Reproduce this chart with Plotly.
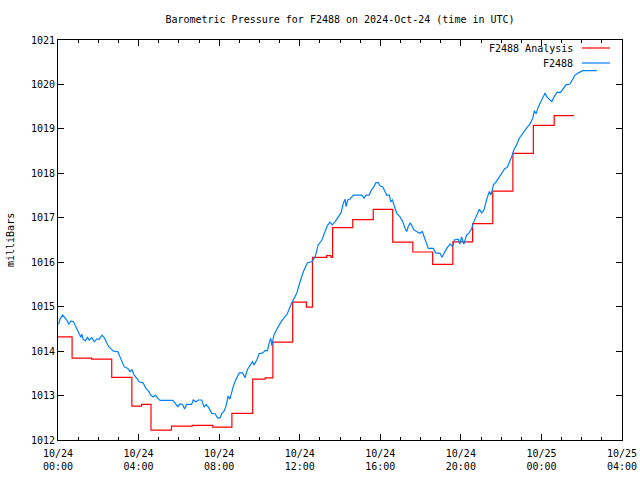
import pandas as pd
import plotly.graph_objects as go

# ---- data (minutes after 2024-10-24 00:00 UTC, pressure in mbar) ----
obs_minutes = [
    2, 6, 14, 19, 26, 32, 39, 46, 52, 57, 63, 68, 71, 75, 81, 88, 93, 101, 108, 115,
    123, 131, 138, 143, 151, 158, 165, 178, 185, 191, 197, 208, 214, 220, 227, 234, 242, 254, 262, 270,
    276, 284, 290, 297, 304, 342, 348, 357, 363, 371, 377, 383, 398, 403, 411, 418, 428, 435, 441, 448,
    458, 468, 475, 483, 488, 494, 500, 507, 512, 517, 522, 527, 534, 540, 550, 557, 564, 572, 579, 584,
    592, 599, 610, 617, 624, 629, 634, 637, 643, 651, 659, 666, 676, 683, 696, 711, 721, 731, 743, 756,
    766, 775, 786, 793, 802, 810, 817, 825, 835, 843, 850, 855, 858, 863, 870, 880, 905, 912, 917, 927,
    934, 941, 947, 954, 959, 967, 974, 979, 987, 991, 996, 1001, 1009, 1019, 1027, 1034, 1039, 1043, 1049, 1054,
    1060, 1068, 1078, 1085, 1090, 1096, 1103, 1118, 1125, 1138, 1144, 1150, 1158, 1168, 1176, 1180, 1192, 1197, 1202, 1209,
    1217, 1225, 1232, 1237, 1242, 1249, 1255, 1262, 1269, 1277, 1285, 1290, 1297, 1305, 1312, 1319, 1326, 1331, 1338, 1346,
    1351, 1358, 1366, 1374, 1384, 1391, 1398, 1406, 1414, 1419, 1424, 1431, 1438, 1444, 1451, 1456, 1463, 1471, 1477, 1486,
    1497, 1505, 1513, 1525, 1532, 1540, 1550, 1563, 1605,
]
obs_values = [
    1014.60, 1014.72, 1014.81, 1014.77, 1014.70, 1014.61, 1014.68, 1014.66, 1014.57, 1014.50,
    1014.40, 1014.31, 1014.38, 1014.27, 1014.23, 1014.31, 1014.25, 1014.30, 1014.21, 1014.27,
    1014.27, 1014.36, 1014.30, 1014.21, 1014.10, 1014.05, 1014.00, 1013.99, 1013.87, 1013.73,
    1013.65, 1013.61, 1013.54, 1013.58, 1013.46, 1013.39, 1013.31, 1013.28, 1013.16, 1013.10,
    1013.01, 1012.97, 1013.01, 1012.94, 1012.89, 1012.89, 1012.83, 1012.75, 1012.81, 1012.80,
    1012.70, 1012.80, 1012.80, 1012.90, 1012.86, 1012.90, 1012.90, 1012.74, 1012.80, 1012.74,
    1012.60, 1012.59, 1012.50, 1012.50, 1012.60, 1012.64, 1012.75, 1012.99, 1012.92, 1013.09,
    1013.20, 1013.31, 1013.42, 1013.51, 1013.51, 1013.40, 1013.58, 1013.69, 1013.76, 1013.69,
    1013.80, 1013.94, 1013.96, 1014.01, 1014.01, 1014.18, 1014.29, 1014.12, 1014.36, 1014.48,
    1014.59, 1014.68, 1014.77, 1014.84, 1015.08, 1015.30, 1015.56, 1015.79, 1015.99, 1016.01,
    1016.12, 1016.39, 1016.50, 1016.65, 1016.82, 1016.90, 1016.84, 1016.91, 1017.02, 1017.11,
    1017.33, 1017.42, 1017.25, 1017.40, 1017.42, 1017.51, 1017.51, 1017.44, 1017.51, 1017.51,
    1017.63, 1017.70, 1017.79, 1017.79, 1017.72, 1017.70, 1017.59, 1017.51, 1017.51, 1017.36,
    1017.40, 1017.29, 1017.10, 1017.02, 1016.91, 1016.76, 1016.69, 1016.80, 1016.89, 1016.82,
    1016.73, 1016.69, 1016.65, 1016.69, 1016.57, 1016.43, 1016.31, 1016.31, 1016.21, 1016.20,
    1016.11, 1016.20, 1016.31, 1016.41, 1016.35, 1016.50, 1016.52, 1016.41, 1016.57, 1016.41,
    1016.61, 1016.66, 1016.76, 1016.88, 1016.97, 1017.10, 1017.19, 1017.11, 1017.18, 1017.42,
    1017.59, 1017.51, 1017.74, 1017.81, 1017.89, 1017.96, 1018.04, 1018.11, 1018.13, 1018.26,
    1018.37, 1018.53, 1018.64, 1018.79, 1018.90, 1018.98, 1019.04, 1019.11, 1019.24, 1019.41,
    1019.34, 1019.50, 1019.61, 1019.72, 1019.81, 1019.72, 1019.67, 1019.61, 1019.71, 1019.82,
    1019.82, 1019.91, 1019.99, 1020.01, 1020.10, 1020.21, 1020.26, 1020.31, 1020.31,
]

analysis_minutes = [
    0, 42, 100, 160, 220, 249, 277, 338, 400, 461, 518, 580, 617, 640, 699, 740, 758, 800,
    813, 818, 878, 939, 997, 1057, 1116, 1176, 1235, 1295, 1355, 1416, 1478, 1537,
]
analysis_values = [
    1014.32, 1013.84, 1013.82, 1013.41, 1012.76, 1012.80, 1012.22, 1012.31, 1012.33, 1012.29,
    1012.60, 1013.37, 1013.40, 1014.20, 1015.10, 1014.99, 1016.11, 1016.15, 1016.11, 1016.78,
    1016.96, 1017.19, 1016.45, 1016.23, 1015.95, 1016.46, 1016.87, 1017.60, 1018.45, 1019.08,
    1019.30, 1019.30,
]

title_text = "Barometric Pressure for F2488 on 2024-Oct-24 (time in UTC)"
y_label = "milliBars"
legend_names = ["F2488 Analysis", "F2488"]
series_colors = ["#ff0000", "#0080ff"]

base = pd.Timestamp("2024-10-24 00:00")
obs_t = [base + pd.Timedelta(minutes=m) for m in obs_minutes]
ana_t = [base + pd.Timedelta(minutes=m) for m in analysis_minutes]

FONT = "DejaVu Sans Mono"
FS = 10
W, H = 640, 480

fig = go.Figure()
fig.add_trace(go.Scatter(x=ana_t, y=analysis_values, mode="lines", line_shape="hv",
                         line=dict(color=series_colors[0], width=1.2),
                         name=legend_names[0], showlegend=False))
fig.add_trace(go.Scatter(x=obs_t, y=obs_values, mode="lines",
                         line=dict(color=series_colors[1], width=1.2),
                         name=legend_names[1], showlegend=False))

# gnuplot-style key: text right-aligned, line sample to its right
key_rows = [0.98, 0.9425]
for name, col, yy in zip(legend_names, series_colors, key_rows):
    fig.add_annotation(x=0.917, y=yy, xref="paper", yref="paper", text=name,
                       showarrow=False, xanchor="right", yanchor="middle",
                       font=dict(family=FONT, size=FS, color="black"))
    fig.add_shape(type="line", xref="paper", yref="paper", x0=0.929, x1=0.9787,
                  y0=yy, y1=yy, line=dict(color=col, width=1.2))

fig.add_annotation(x=-0.0851, y=0.5, xref="paper", yref="paper", text=y_label,
                   textangle=-90, showarrow=False, xanchor="center", yanchor="middle",
                   font=dict(family=FONT, size=FS, color="black"))

fig.update_layout(
    width=W, height=H,
    margin=dict(l=58, r=18, t=40, b=40, autoexpand=False),
    paper_bgcolor="white", plot_bgcolor="white",
    font=dict(family=FONT, size=FS, color="black"),
    title=dict(text=title_text, x=0.5, xref="paper", y=1 - 19 / H, yref="container",
               xanchor="center", yanchor="middle", font=dict(family=FONT, size=FS),
               automargin=False),
)
fig.update_xaxes(
    type="date", automargin=False,
    range=[base, base + pd.Timedelta(hours=28)],
    tick0=base, dtick=4 * 3600000,
    tickformat="%m/%d<br>%H:%M",
    ticks="inside", ticklen=6, tickcolor="black", ticklabelstandoff=4,
    minor=dict(ticks="inside", ticklen=3, dtick=3600000, tickcolor="black", showgrid=False),
    showline=True, linecolor="black", linewidth=1, mirror="allticks",
    showgrid=False, zeroline=False,
)
fig.update_yaxes(
    automargin=False,
    range=[1012, 1021], dtick=1, tick0=1012,
    tickformat="d",
    ticks="inside", ticklen=6, tickcolor="black",
    showline=True, linecolor="black", linewidth=1, mirror="allticks",
    showgrid=False, zeroline=False,
)

fig.write_html(
    "out.html",
    config={"displayModeBar": False},
    post_script="document.body.style.margin='0';document.body.style.overflow='hidden';",
)
